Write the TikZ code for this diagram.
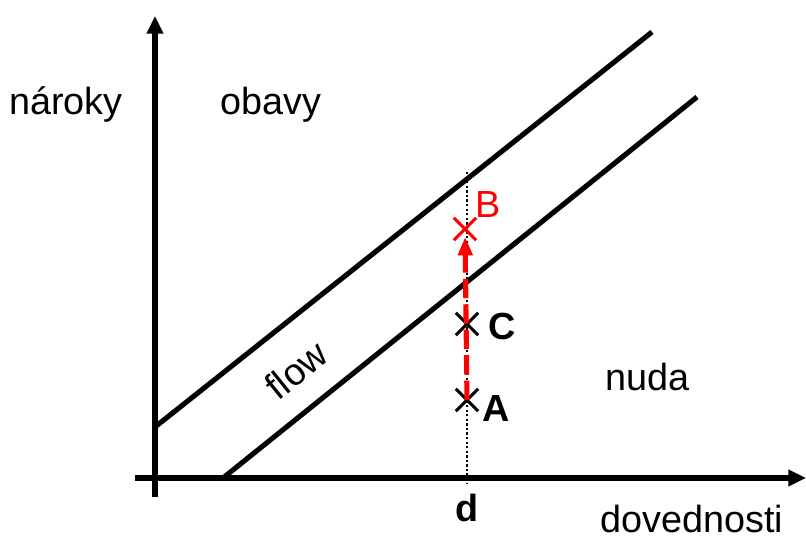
\documentclass[tikz,border=0pt]{standalone}
\usepackage{fontspec}
\setmainfont{Liberation Sans}
\usetikzlibrary{positioning,shapes.misc,arrows.meta}
\colorlet{shiftred}{red}
\colorlet{ink}{black}

\begin{document}
\begin{tikzpicture}[x=0.02cm,y=-0.02cm,
    axis/.style={ink, line width=2.9pt, -{Triangle[length=10pt,width=9pt]}},
    band/.style={ink, line width=2.9pt},
    guide/.style={ink, line width=1.6pt, dash pattern=on 1.3pt off 1.3pt},
    markx/.style={cross out, draw, line width=1.8pt, minimum size=11pt, inner sep=0pt},
    lbl/.style={font=\fontsize{21.5}{26}\selectfont, inner sep=0pt},
    blbl/.style={lbl, font=\fontsize{21.5}{26}\selectfont\bfseries}]
  \useasboundingbox (0,0) rectangle (806,538);
  % axes
  \coordinate (ybot) at (155,497);
  \coordinate (ytop) at (155,16);
  \coordinate (xleft) at (135,478);
  \coordinate (xright) at (806,478);
  \draw[axis] (ybot) -- (ytop);
  \draw[axis] (xleft) -- (xright);
  % flow channel
  \coordinate (up1) at (155,427);
  \coordinate (up2) at (652,32);
  \coordinate (lo1) at (223,478);
  \coordinate (lo2) at (697,97);
  \draw[band] (up1) -- (up2);
  \draw[band] (lo1) -- (lo2);
  % skill level d
  \coordinate (dtop) at (467,172);
  \coordinate (dbot) at (467,484);
  \draw[guide] (dtop) -- (dbot);
  \node[markx] (A) at (467,400) {};
  \node[markx] (C) at (467,324) {};
  \node[markx, shiftred] (B) at (465,229) {};
  \draw[shiftred, line width=2.9pt, dash pattern=on 11pt off 3.5pt,
        -{Triangle[length=10.5pt,width=8pt]}, shorten >=4.5pt] (A.center) -- (B.center);
  % labels
  \node[lbl] (naroky) at (66,105) {nároky};
  \node[lbl] (obavy) at (271,105) {obavy};
  \node[lbl, rotate=39] (flow) at (296,370) {flow};
  \node[lbl] (nuda) at (648,377) {nuda};
  \node[lbl] (dovednosti) at (692,519) {dovednosti};
  \node[blbl] (dlbl) at (467,508) {d};
  \node[blbl] (Albl) at (496,409) {A};
  \node[blbl] (Clbl) at (502,326) {C};
  \node[lbl, text=shiftred] (Blbl) at (488,205) {B};
\end{tikzpicture}
\end{document}
